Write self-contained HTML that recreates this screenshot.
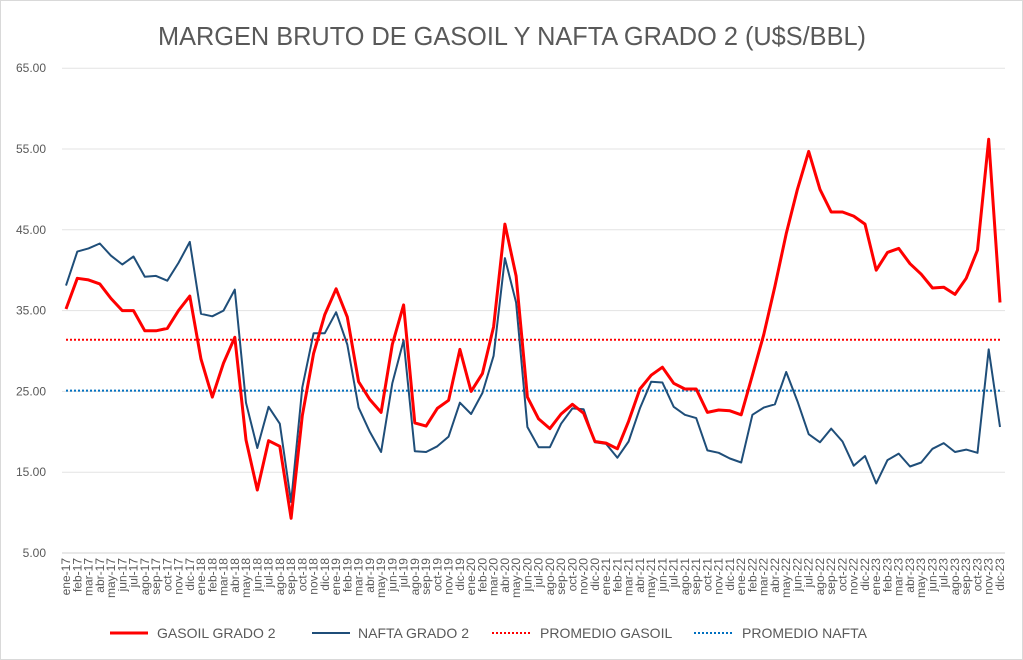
<!DOCTYPE html>
<html><head><meta charset="utf-8"><style>
html,body{margin:0;padding:0;background:#fff;}
svg{display:block;font-family:"Liberation Sans",sans-serif;}
</style></head><body>
<svg id="c" width="1023" height="660" xmlns="http://www.w3.org/2000/svg">
<rect x="0.5" y="0.5" width="1022" height="659" fill="#fff" stroke="#d9d9d9"/>
<text x="512" y="45" text-anchor="middle" font-size="26" fill="#595959" textLength="708" lengthAdjust="spacingAndGlyphs">MARGEN BRUTO DE GASOIL Y NAFTA GRADO 2 (U$S/BBL)</text>
<g id="grid"></g>
<g id="xl" font-size="12" fill="#595959"></g>
<g id="ser"></g>
<g font-size="14" fill="#595959">
<line x1="110" y1="633" x2="148" y2="633" stroke="#ff0000" stroke-width="3"/>
<text x="157" y="638">GASOIL GRADO 2</text>
<line x1="312" y1="633" x2="350" y2="633" stroke="#1f4e79" stroke-width="2"/>
<text x="358" y="638">NAFTA GRADO 2</text>
<line x1="492" y1="633" x2="530" y2="633" stroke="#ff0000" stroke-width="2" stroke-dasharray="2,2"/>
<text x="540" y="638">PROMEDIO GASOIL</text>
<line x1="694" y1="633" x2="733" y2="633" stroke="#0070c0" stroke-width="2" stroke-dasharray="2,2"/>
<text x="742" y="638">PROMEDIO NAFTA</text>
</g>
</svg>
<script>
var NS="http://www.w3.org/2000/svg";
function Y(v){return 553-(v-5)*8.08;}
function X(i){return 66+i*11.253;}
function el(t,a,p,txt){var e=document.createElementNS(NS,t);for(var k in a)e.setAttribute(k,a[k]);if(txt)e.textContent=txt;p.appendChild(e);return e;}
var g=document.getElementById('grid');
for(var v=5;v<=65;v+=10){var y=Y(v);
 el('line',{x1:62,x2:1005,y1:y,y2:y,stroke:v==5?'#d0d0d0':'#e3e3e3','stroke-width':1},g);
 el('text',{x:46,y:y+4,'text-anchor':'end','font-size':12,fill:'#595959'},g,v.toFixed(2));}
var m=['ene','feb','mar','abr','may','jun','jul','ago','sep','oct','nov','dic'];
var xl=document.getElementById('xl');
for(var i=0;i<84;i++){var x=X(i)+4;var lab=m[i%12]+'-'+(17+Math.floor(i/12));
 el('text',{x:x,y:558,'text-anchor':'end',transform:'rotate(-90 '+x+' 558)'},xl,lab);}
var gas=[35.2,39,38.8,38.3,36.5,35,35,32.5,32.5,32.8,35,36.8,29,24.3,28.5,31.7,19,12.8,18.9,18.2,9.3,22,29.7,34.5,37.7,34.2,26.2,24,22.4,30.8,35.7,21.1,20.7,22.9,23.9,30.2,25,27.2,33,45.7,39.3,24.3,21.6,20.4,22.2,23.4,22.3,18.8,18.6,17.9,21.3,25.3,27,28,26,25.3,25.3,22.4,22.7,22.6,22.1,27,32,38,44.5,50,54.7,50,47.2,47.2,46.7,45.7,40,42.2,42.7,40.8,39.5,37.8,37.9,37,39,42.5,56.2,36];
var naf=[38.1,42.3,42.7,43.3,41.8,40.7,41.7,39.2,39.3,38.7,40.9,43.5,34.6,34.3,35,37.6,23.6,18,23.1,21,11.3,25.5,32.2,32.2,34.8,30.8,23,20,17.5,26,31.3,17.6,17.5,18.2,19.4,23.6,22.2,24.8,29.4,41.5,36,20.6,18.1,18.1,21,22.9,22.8,18.7,18.5,16.8,18.8,22.9,26.2,26.1,23.1,22.1,21.7,17.7,17.4,16.7,16.2,22.1,23,23.4,27.4,23.8,19.7,18.7,20.4,18.8,15.8,17,13.6,16.5,17.3,15.7,16.2,17.9,18.6,17.5,17.8,17.4,30.2,20.6];
var s=document.getElementById('ser');
function pts(a){return a.map(function(v,i){return X(i).toFixed(1)+','+Y(v).toFixed(1);}).join(' ');}
el('line',{x1:X(0),x2:X(83),y1:Y(31.4),y2:Y(31.4),stroke:'#ff0000','stroke-width':2,'stroke-dasharray':'2,2'},s);
el('line',{x1:X(0),x2:X(83),y1:Y(25.1),y2:Y(25.1),stroke:'#0070c0','stroke-width':2,'stroke-dasharray':'2,2'},s);
el('polyline',{points:pts(naf),fill:'none',stroke:'#1f4e79','stroke-width':2,'stroke-linejoin':'round'},s);
el('polyline',{points:pts(gas),fill:'none',stroke:'#ff0000','stroke-width':3,'stroke-linejoin':'round'},s);
</script>
</body></html>
